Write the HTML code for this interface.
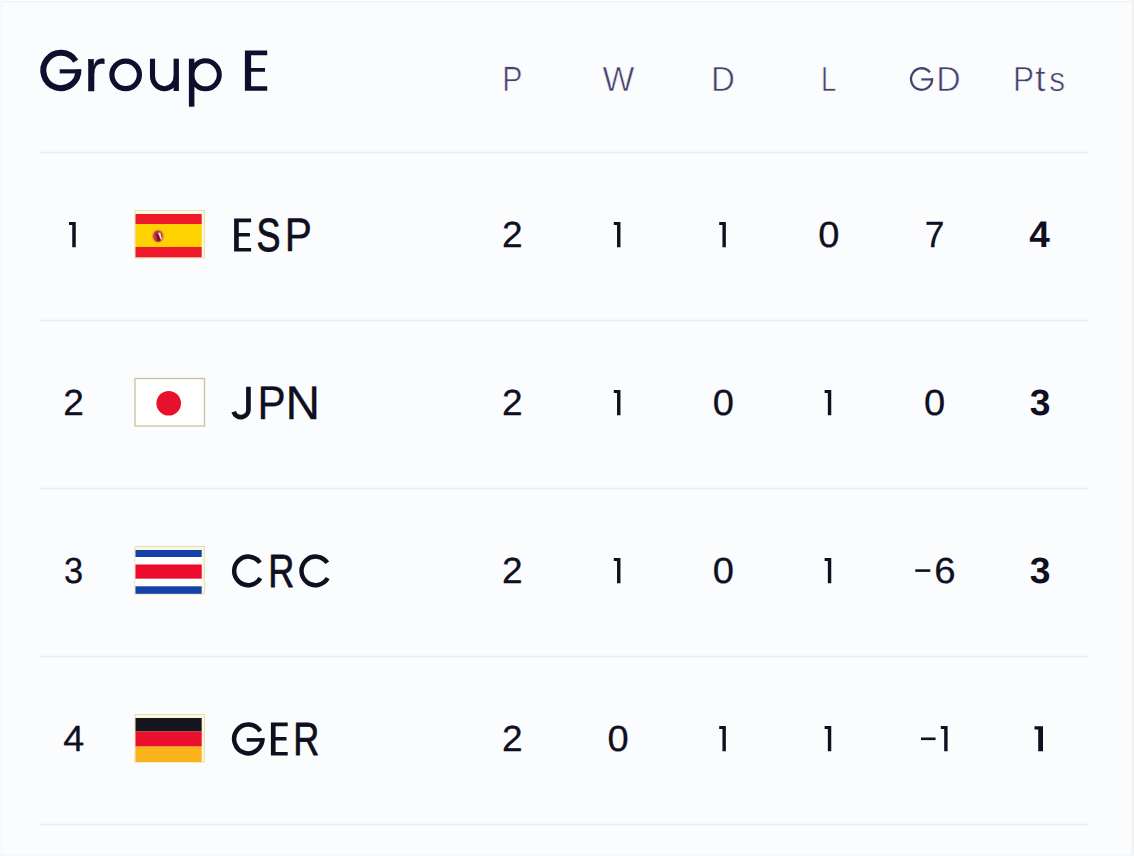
<!DOCTYPE html>
<html><head><meta charset="utf-8"><style>
html,body{margin:0;padding:0}
body{width:1134px;height:856px;overflow:hidden;background:#fbfcfe}
svg{display:block;font-family:"Liberation Sans",sans-serif;text-rendering:geometricPrecision}
</style></head><body>
<svg width="1134" height="856" viewBox="0 0 1134 856">
<rect width="1134" height="856" fill="#fbfcfe"/>
<rect x="0" y="1" width="1134" height="1.3" fill="#f1f2f5"/>
<rect x="1131.5" y="0" width="2.5" height="856" fill="#f3f4f2"/>
<rect x="0" y="0" width="3" height="856" fill="#f8f9fb"/>
<rect x="0" y="854" width="1134" height="2" fill="#f6f7fa"/>
<rect x="40" y="151.7" width="1048" height="1.6" fill="#eaecf0"/>
<rect x="40" y="319.7" width="1048" height="1.6" fill="#eaecf0"/>
<rect x="40" y="487.7" width="1048" height="1.6" fill="#eaecf0"/>
<rect x="40" y="655.7" width="1048" height="1.6" fill="#eaecf0"/>
<rect x="40" y="823.7" width="1048" height="1.6" fill="#eaecf0"/>
<rect x="135.0" y="210.5" width="69.5" height="47.5" fill="#fbf7df" stroke="#e9e0b8" stroke-width="1"/>
<rect x="135.5" y="214.0" width="66.2" height="10" fill="#ee1a2c"/>
<rect x="135.5" y="224.0" width="66.2" height="23" fill="#fdd200"/>
<rect x="135.5" y="247.0" width="66.2" height="10.3" fill="#ee1a2c"/>
<ellipse cx="158.1" cy="236.2" rx="6.0" ry="6.6" fill="#d9803a" opacity="0.75"/>
<ellipse cx="157.9" cy="236.2" rx="4.6" ry="5.8" fill="#c03a3e"/>
<path d="M155.5 232.2 L158.5 235.2 L160.5 240.7 L157.5 241.0 Z" fill="#6e1230"/>
<path d="M158.2 233.0 L160.2 232.6 L161.8 239.0 L160.8 239.6 Z" fill="#fbeee8"/>
<rect x="135.0" y="378.5" width="69.5" height="47.5" fill="#fefefc" stroke="#cbc29c" stroke-width="1.3"/>
<circle cx="168.7" cy="403.3" r="12.3" fill="#e8112d"/>
<rect x="135.0" y="546.5" width="69.5" height="47.5" fill="#fbf7df" stroke="#e9e0b8" stroke-width="1"/>
<rect x="135.5" y="550.0" width="66.2" height="7" fill="#1541a8"/>
<rect x="135.5" y="557.0" width="66.2" height="7.5" fill="#ffffff"/>
<rect x="135.5" y="564.5" width="66.2" height="14.3" fill="#ec0b2c"/>
<rect x="135.5" y="578.8" width="66.2" height="7.5" fill="#ffffff"/>
<rect x="135.5" y="586.3" width="66.2" height="7.5" fill="#1541a8"/>
<rect x="135.0" y="714.5" width="69.5" height="47.5" fill="#fbf7df" stroke="#e9e0b8" stroke-width="1"/>
<rect x="135.5" y="718.0" width="66.2" height="13.5" fill="#17161f"/>
<rect x="135.5" y="731.5" width="66.2" height="15.1" fill="#e8102c"/>
<rect x="135.5" y="746.6" width="66.2" height="15.5" fill="#fbb41c"/>
<path d="M75.69 61.10 A17.50 17.65 0 1 0 78.32 69.47" fill="none" stroke="#0e0f2c" stroke-width="6.00"/>
<rect x="59.70" y="69.30" width="21.35" height="4.10" fill="#0e0f2c"/>
<ellipse cx="125.65" cy="74.85" rx="13.75" ry="13.80" fill="none" stroke="#0e0f2c" stroke-width="5.2"/>
<path d="M152.5 58.7 V76.3 A11.85 12.4 0 0 0 176.2 76.3" fill="none" stroke="#0e0f2c" stroke-width="5.1"/>
<rect x="173.6" y="58.7" width="5.3" height="32.3" fill="#0e0f2c"/>
<rect x="188.9" y="58.7" width="5.5" height="48.0" fill="#0e0f2c"/>
<ellipse cx="205.5" cy="74.8" rx="13.80" ry="14.00" fill="none" stroke="#0e0f2c" stroke-width="5.0"/>
<text transform="translate(83.89 90.77) scale(1.0810 1.0188)" font-size="59.0" fill="#0e0f2c" stroke="#0e0f2c" stroke-width="0.45" stroke-linejoin="round" vector-effect="non-scaling-stroke">r</text>
<path d="M244.90 50.40 H267.20 V55.20 H251.10 V67.90 H265.00 V71.70 H251.10 V86.30 H267.20 V90.80 H244.90 Z" fill="#0e0f2c"/>
<path d="M929.91 72.38 A10.55 10.75 0 1 0 932.13 78.37" fill="none" stroke="#46416e" stroke-width="2.30"/>
<rect x="921.30" y="78.30" width="11.70" height="2.20" fill="#46416e"/>
<text transform="translate(502.22 90.90) scale(0.8897 1.0346)" font-size="34.0" fill="#46416e" stroke="#fbfcfe" stroke-width="0.60" vector-effect="non-scaling-stroke">P</text>
<text transform="translate(602.55 90.90) scale(0.9929 1.0260)" font-size="34.0" fill="#46416e" stroke="#fbfcfe" stroke-width="0.60" vector-effect="non-scaling-stroke">W</text>
<text transform="translate(710.99 90.90) scale(0.9733 1.0260)" font-size="34.0" fill="#46416e" stroke="#fbfcfe" stroke-width="0.60" vector-effect="non-scaling-stroke">D</text>
<text transform="translate(820.95 90.90) scale(0.8071 1.0260)" font-size="34.0" fill="#46416e" stroke="#fbfcfe" stroke-width="0.60" vector-effect="non-scaling-stroke">L</text>
<text transform="translate(936.13 90.90) scale(0.9932 1.0260)" font-size="34.0" fill="#46416e" stroke="#fbfcfe" stroke-width="0.60" vector-effect="non-scaling-stroke">D</text>
<text transform="translate(1013.11 90.90) scale(0.9284 1.0260)" font-size="34.0" fill="#46416e" stroke="#fbfcfe" stroke-width="0.60" vector-effect="non-scaling-stroke">P</text>
<text transform="translate(1035.02 90.81) scale(1.1287 1.0788)" font-size="34.0" fill="#46416e" stroke="#fbfcfe" stroke-width="0.60" vector-effect="non-scaling-stroke">t</text>
<text transform="translate(1049.22 90.77) scale(0.9308 1.0066)" font-size="34.0" fill="#46416e" stroke="#fbfcfe" stroke-width="0.60" vector-effect="non-scaling-stroke">s</text>
<path d="M69.00 221.90 H75.75 V247.30 H72.25 V224.90 H69.00 Z" fill="#0f0f1f"/>
<path d="M234.10 218.40 H251.10 V222.30 H238.80 V233.10 H249.90 V236.50 H238.80 V247.90 H251.10 V251.40 H234.10 Z" fill="#0f0f1f"/>
<text transform="translate(256.42 250.99) scale(0.7647 0.9914)" font-size="47.0" fill="#0f0f1f" stroke="#0f0f1f" stroke-width="0.91" stroke-linejoin="round" vector-effect="non-scaling-stroke">S</text>
<text transform="translate(284.87 251.19) scale(0.8664 1.0042)" font-size="47.0" fill="#0f0f1f" stroke="#0f0f1f" stroke-width="0.43" stroke-linejoin="round" vector-effect="non-scaling-stroke">P</text>
<text transform="translate(502.08 247.15) scale(1.0305 1.0105)" font-size="36.0" fill="#0f0f1f" stroke="#0f0f1f" stroke-width="0.30" stroke-linejoin="round" vector-effect="non-scaling-stroke">2</text>
<path d="M613.80 221.90 H620.45 V247.30 H617.05 V224.90 H613.80 Z" fill="#0f0f1f"/>
<path d="M719.20 221.90 H725.85 V247.30 H722.45 V224.90 H719.20 Z" fill="#0f0f1f"/>
<text transform="translate(818.21 247.10) scale(1.0576 1.0083)" font-size="36.0" fill="#0f0f1f" stroke="#0f0f1f" stroke-width="0.30" stroke-linejoin="round" vector-effect="non-scaling-stroke">0</text>
<text transform="translate(924.73 247.15) scale(0.9838 1.0134)" font-size="36.0" fill="#0f0f1f" stroke="#0f0f1f" stroke-width="0.30" stroke-linejoin="round" vector-effect="non-scaling-stroke">7</text>
<text transform="translate(1029.34 247.30) scale(1.0268 1.0255)" font-size="36.0" fill="#0f0f1f" font-weight="bold">4</text>
<text transform="translate(63.18 415.15) scale(1.0305 1.0105)" font-size="36.0" fill="#0f0f1f" stroke="#0f0f1f" stroke-width="0.30" stroke-linejoin="round" vector-effect="non-scaling-stroke">2</text>
<path d="M248.45 386.70 V409.60 A7.55 7.55 0 0 1 233.68 411.81" fill="none" stroke="#0f0f1f" stroke-width="4.70"/>
<text transform="translate(257.39 419.25) scale(0.8993 1.0080)" font-size="47.0" fill="#0f0f1f" stroke="#0f0f1f" stroke-width="0.30" stroke-linejoin="round" vector-effect="non-scaling-stroke">P</text>
<text transform="translate(285.52 419.26) scale(1.0175 1.0086)" font-size="47.0" fill="#0f0f1f" stroke="#0f0f1f" stroke-width="0.29" stroke-linejoin="round" vector-effect="non-scaling-stroke">N</text>
<text transform="translate(502.08 415.15) scale(1.0305 1.0105)" font-size="36.0" fill="#0f0f1f" stroke="#0f0f1f" stroke-width="0.30" stroke-linejoin="round" vector-effect="non-scaling-stroke">2</text>
<path d="M613.80 389.90 H620.45 V415.30 H617.05 V392.90 H613.80 Z" fill="#0f0f1f"/>
<text transform="translate(712.81 415.10) scale(1.0576 1.0083)" font-size="36.0" fill="#0f0f1f" stroke="#0f0f1f" stroke-width="0.30" stroke-linejoin="round" vector-effect="non-scaling-stroke">0</text>
<path d="M824.60 389.90 H831.25 V415.30 H827.85 V392.90 H824.60 Z" fill="#0f0f1f"/>
<text transform="translate(924.01 415.10) scale(1.0576 1.0083)" font-size="36.0" fill="#0f0f1f" stroke="#0f0f1f" stroke-width="0.30" stroke-linejoin="round" vector-effect="non-scaling-stroke">0</text>
<text transform="translate(1029.70 415.19) scale(1.0338 1.0180)" font-size="36.0" fill="#0f0f1f" font-weight="bold">3</text>
<text transform="translate(64.04 583.10) scale(0.9550 1.0083)" font-size="36.0" fill="#0f0f1f" stroke="#0f0f1f" stroke-width="0.30" stroke-linejoin="round" vector-effect="non-scaling-stroke">3</text>
<path d="M259.94 562.85 A14.10 14.30 0 1 0 260.34 578.22" fill="none" stroke="#0f0f1f" stroke-width="4.50"/>
<text transform="translate(268.25 586.99) scale(0.7664 0.9923)" font-size="47.0" fill="#0f0f1f" stroke="#0f0f1f" stroke-width="0.81" stroke-linejoin="round" vector-effect="non-scaling-stroke">R</text>
<path d="M327.29 562.85 A14.10 14.30 0 1 0 327.69 578.22" fill="none" stroke="#0f0f1f" stroke-width="4.50"/>
<text transform="translate(502.08 583.15) scale(1.0305 1.0105)" font-size="36.0" fill="#0f0f1f" stroke="#0f0f1f" stroke-width="0.30" stroke-linejoin="round" vector-effect="non-scaling-stroke">2</text>
<path d="M613.80 557.90 H620.45 V583.30 H617.05 V560.90 H613.80 Z" fill="#0f0f1f"/>
<text transform="translate(712.81 583.10) scale(1.0576 1.0083)" font-size="36.0" fill="#0f0f1f" stroke="#0f0f1f" stroke-width="0.30" stroke-linejoin="round" vector-effect="non-scaling-stroke">0</text>
<path d="M824.60 557.90 H831.25 V583.30 H827.85 V560.90 H824.60 Z" fill="#0f0f1f"/>
<rect x="915.3" y="569.30" width="15" height="2.6" fill="#0f0f1f"/>
<text transform="translate(934.20 583.10) scale(1.0655 1.0083)" font-size="36.0" fill="#0f0f1f" stroke="#0f0f1f" stroke-width="0.30" stroke-linejoin="round" vector-effect="non-scaling-stroke">6</text>
<text transform="translate(1029.70 583.19) scale(1.0338 1.0180)" font-size="36.0" fill="#0f0f1f" font-weight="bold">3</text>
<text transform="translate(63.13 751.15) scale(1.0474 1.0134)" font-size="36.0" fill="#0f0f1f" stroke="#0f0f1f" stroke-width="0.30" stroke-linejoin="round" vector-effect="non-scaling-stroke">4</text>
<path d="M260.21 731.24 A14.10 14.45 0 1 0 262.33 738.21" fill="none" stroke="#0f0f1f" stroke-width="4.50"/>
<rect x="246.80" y="738.10" width="17.50" height="3.60" fill="#0f0f1f"/>
<path d="M270.90 722.40 H287.70 V726.30 H275.60 V737.10 H286.50 V740.50 H275.60 V751.90 H287.70 V755.40 H270.90 Z" fill="#0f0f1f"/>
<text transform="translate(293.15 754.99) scale(0.7664 0.9923)" font-size="47.0" fill="#0f0f1f" stroke="#0f0f1f" stroke-width="0.81" stroke-linejoin="round" vector-effect="non-scaling-stroke">R</text>
<text transform="translate(502.08 751.15) scale(1.0305 1.0105)" font-size="36.0" fill="#0f0f1f" stroke="#0f0f1f" stroke-width="0.30" stroke-linejoin="round" vector-effect="non-scaling-stroke">2</text>
<text transform="translate(607.41 751.10) scale(1.0576 1.0083)" font-size="36.0" fill="#0f0f1f" stroke="#0f0f1f" stroke-width="0.30" stroke-linejoin="round" vector-effect="non-scaling-stroke">0</text>
<path d="M719.20 725.90 H725.85 V751.30 H722.45 V728.90 H719.20 Z" fill="#0f0f1f"/>
<path d="M824.60 725.90 H831.25 V751.30 H827.85 V728.90 H824.60 Z" fill="#0f0f1f"/>
<rect x="921" y="737.50" width="14.6" height="2.6" fill="#0f0f1f"/>
<path d="M940.80 725.90 H947.60 V751.30 H944.20 V728.90 H940.80 Z" fill="#0f0f1f"/>
<path d="M1034.50 726.20 H1043.00 V751.30 H1038.20 V729.60 H1034.50 Z" fill="#0f0f1f"/>
</svg>
</body></html>
